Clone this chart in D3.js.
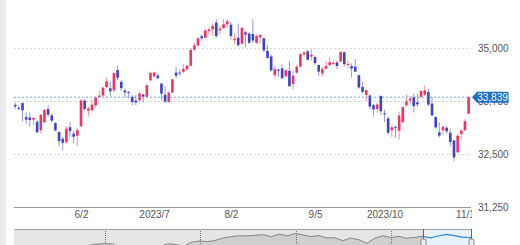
<!DOCTYPE html>
<html>
<head>
<meta charset="utf-8">
<script src="https://cdn.jsdelivr.net/npm/d3@7"></script>
<style>
  body { margin: 0; background: #fff; }
  svg { display: block; }
  text { font-family: "Liberation Sans", Arial, sans-serif; }
</style>
</head>
<body>
<div id="chart"></div>
<script>
// daily candles, 2023-05-08 .. 2023-11-02
var dates = ["2023-05-08","2023-05-09","2023-05-10","2023-05-11","2023-05-12","2023-05-15","2023-05-16","2023-05-17","2023-05-18","2023-05-19",
  "2023-05-22","2023-05-23","2023-05-24","2023-05-25","2023-05-26","2023-05-30","2023-05-31","2023-06-01","2023-06-02","2023-06-05",
  "2023-06-06","2023-06-07","2023-06-08","2023-06-09","2023-06-12","2023-06-13","2023-06-14","2023-06-15","2023-06-16","2023-06-20",
  "2023-06-21","2023-06-22","2023-06-23","2023-06-26","2023-06-27","2023-06-28","2023-06-29","2023-06-30","2023-07-03","2023-07-05",
  "2023-07-06","2023-07-07","2023-07-10","2023-07-11","2023-07-12","2023-07-13","2023-07-14","2023-07-17","2023-07-18","2023-07-19",
  "2023-07-20","2023-07-21","2023-07-24","2023-07-25","2023-07-26","2023-07-27","2023-07-28","2023-07-31","2023-08-01","2023-08-02",
  "2023-08-03","2023-08-04","2023-08-07","2023-08-08","2023-08-09","2023-08-10","2023-08-11","2023-08-14","2023-08-15","2023-08-16",
  "2023-08-17","2023-08-18","2023-08-21","2023-08-22","2023-08-23","2023-08-24","2023-08-25","2023-08-28","2023-08-29","2023-08-30",
  "2023-08-31","2023-09-01","2023-09-05","2023-09-06","2023-09-07","2023-09-08","2023-09-11","2023-09-12","2023-09-13","2023-09-14",
  "2023-09-15","2023-09-18","2023-09-19","2023-09-20","2023-09-21","2023-09-22","2023-09-25","2023-09-26","2023-09-27","2023-09-28",
  "2023-09-29","2023-10-02","2023-10-03","2023-10-04","2023-10-05","2023-10-06","2023-10-09","2023-10-10","2023-10-11","2023-10-12",
  "2023-10-13","2023-10-16","2023-10-17","2023-10-18","2023-10-19","2023-10-20","2023-10-23","2023-10-24","2023-10-25","2023-10-26",
  "2023-10-27","2023-10-30","2023-10-31","2023-11-01","2023-11-02"];

var open = [33660,33590,33700,33370,33360,33310,33260,33060,33250,33560,
  33410,33230,33020,32860,32780,33130,32980,32930,33150,33760,
  33520,33530,33650,33840,33880,34080,34050,34000,34480,34200,
  34000,33965,33850,33760,33770,33900,33850,34240,34330,34350,
  34160,33900,33730,33950,34420,34420,34440,34500,34580,34960,
  35060,35280,35240,35400,35440,35600,35420,35470,35560,35550,
  35190,35240,35100,35370,35340,35330,35120,35250,35230,34930,
  34800,34360,34490,34520,34330,34460,34150,34420,34560,34850,
  34920,34800,34790,34600,34400,34510,34600,34630,34660,34680,
  34900,34600,34570,34560,34360,34080,33890,33880,33650,33560,
  33870,33460,33340,33060,33140,33050,33250,33650,33760,33840,
  33720,33850,33900,33960,33690,33370,33010,33060,33120,33000,
  32820,32540,32970,33060,33450];

var high = [33720,33640,33720,33480,33480,33370,33300,33450,33560,33650,
  33460,33250,33030,32900,33160,33250,33040,33110,33800,33800,
  33610,33780,33850,33990,34070,34300,34210,34420,34590,34250,
  34050,33980,33890,33890,33950,33930,34140,34440,34440,34400,
  34170,34100,33980,34270,34560,34500,34630,34600,34990,35120,
  35270,35320,35460,35480,35570,35680,35520,35680,35680,35620,
  35350,35580,35500,35400,35370,35680,35320,35320,35240,35070,
  34850,34580,34520,34610,34500,34700,34480,34590,34870,34920,
  34960,34980,34800,34610,34560,34690,34790,34720,34700,34920,
  34910,34700,34640,34740,34370,34200,34020,33900,33680,33720,
  33880,33540,33390,33180,33170,33500,33620,33900,33870,33920,
  33930,34010,34120,34040,33850,33400,33240,33180,33170,33100,
  32830,32980,33070,33320,33860];

var low = [33560,33520,33270,33210,33140,33180,32995,32980,33220,33380,
  33240,33030,32680,32586,32750,32900,32750,32690,33150,33510,
  33380,33510,33590,33820,33850,34050,33860,33960,34240,33980,
  33830,33810,33650,33650,33720,33720,33840,34220,34330,34260,
  33770,33700,33700,33950,34290,34350,34400,34460,34560,34940,
  35020,35170,35220,35330,35290,35240,35320,35450,35480,35200,
  35100,35030,35090,35020,35100,35110,35100,35100,34900,34750,
  34440,34300,34320,34270,34320,34090,34030,34380,34540,34790,
  34720,34700,34600,34330,34330,34500,34560,34600,34500,34670,
  34560,34520,34300,34430,34040,33930,33750,33560,33380,33470,
  33420,33250,32950,32900,32880,32850,33240,33620,33660,33480,
  33610,33820,33860,33630,33390,33100,32890,32960,32980,32680,
  32330,32530,32850,33040,33440];

var close = [33619,33562,33531,33310,33301,33349,33012,33421,33536,33427,
  33287,33056,32800,32765,33093,33043,32908,33062,33763,33563,
  33573,33665,33834,33877,34066,34212,33979,34408,34299,34054,
  33952,33947,33727,33715,33927,33853,34122,34408,34418,34289,
  33922,33735,33944,34261,34347,34395,34509,34585,34952,35061,
  35225,35228,35411,35438,35520,35283,35459,35560,35631,35283,
  35216,35066,35473,35314,35123,35176,35281,35308,34946,34766,
  34475,34501,34464,34289,34473,34099,34347,34560,34853,34890,
  34722,34838,34642,34443,34501,34577,34664,34646,34576,34907,
  34618,34624,34518,34441,34070,33964,34007,33619,33550,33666,
  33508,33433,33002,33130,33120,33408,33605,33739,33805,33631,
  33670,33985,33998,33665,33414,33127,32936,33141,33036,32784,
  32418,32929,33053,33275,33839];

var priceTicks = [31250, 32500, 33750, 35000];
var dateTicks = ["2023-06-02","2023-07-03","2023-08-02","2023-09-05","2023-10-02","2023-11-01"];
var dateTickLabels = ["6/2","2023/7","8/2","9/5","2023/10","11/1"];
var lastPrice = 33839;

// navigator: monthly closes
var navMonths = ["2019-01-31","2019-02-28","2019-03-29","2019-04-30","2019-05-31","2019-06-28","2019-07-31","2019-08-30","2019-09-30","2019-10-31","2019-11-29","2019-12-31",
  "2020-01-31","2020-02-28","2020-03-31","2020-04-30","2020-05-29","2020-06-30","2020-07-31","2020-08-31","2020-09-30","2020-10-30","2020-11-30","2020-12-31",
  "2021-01-29","2021-02-26","2021-03-31","2021-04-30","2021-05-28","2021-06-30","2021-07-30","2021-08-31","2021-09-30","2021-10-29","2021-11-30","2021-12-31",
  "2022-01-31","2022-02-28","2022-03-31","2022-04-29","2022-05-31","2022-06-30","2022-07-29","2022-08-31","2022-09-30","2022-10-31","2022-11-30","2022-12-30",
  "2023-01-31","2023-02-28","2023-03-31","2023-04-28","2023-05-31","2023-06-30","2023-07-31","2023-08-31","2023-09-29","2023-10-31","2023-11-02"];
var navClose = [25000,25916,25929,26593,24815,26600,26864,26403,26917,27046,28051,28538,
  28256,25409,21917,24346,25383,25813,26428,28430,27782,26502,29638,30606,
  29983,30932,32982,33875,34529,34503,34935,35361,33844,35820,34484,36338,
  35132,33893,34678,32977,32990,30775,32845,31510,28726,32733,34590,33147,
  34086,32657,33274,34098,32908,34408,35560,34722,33508,33053,33839];
var navYears = ["2020-01-01","2021-01-01","2022-01-01","2023-01-01"];

var W = 520, H = 245;
var plotL = 14, plotR = 471, plotT = 0, plotB = 207;
var parse = d3.timeParse("%Y-%m-%d");

var up = "#f5325e", down = "#3d43c2";

var svg = d3.select("#chart").append("svg")
    .attr("width", W)
    .attr("height", H);

svg.append("rect")
    .attr("x", 0).attr("y", 0)
    .attr("width", 6).attr("height", H)
    .attr("fill", "#ebebeb");

var x = d3.scalePoint()
    .domain(dates)
    .range([15.2, 468.6]);

var y = d3.scaleLinear()
    .domain([31250, 35000])
    .range([207, 48]);

var defs = svg.append("defs");
defs.append("clipPath").attr("id", "plot")
  .append("rect")
    .attr("x", plotL).attr("y", plotT)
    .attr("width", plotR - plotL).attr("height", plotB - plotT);
defs.append("clipPath").attr("id", "xlab")
  .append("rect")
    .attr("x", plotL).attr("y", 207)
    .attr("width", plotR + 1 - plotL).attr("height", 20);

// grid
svg.append("g")
  .selectAll("line")
  .data(priceTicks.filter(function(d) { return d > 31250; }))
  .enter().append("line")
    .attr("x1", plotL).attr("x2", plotR)
    .attr("y1", function(d) { return Math.round(y(d)) + 0.5; })
    .attr("y2", function(d) { return Math.round(y(d)) + 0.5; })
    .attr("stroke", "#d9d9d9")
    .attr("stroke-dasharray", "2,2");

// baseline
svg.append("line")
    .attr("x1", plotL).attr("x2", plotR)
    .attr("y1", 207.5).attr("y2", 207.5)
    .attr("stroke", "#999");

// price axis labels
var yAxis = d3.axisRight(y)
    .tickValues(priceTicks)
    .tickFormat(d3.format(","))
    .tickSize(0)
    .tickPadding(0);

var ya = svg.append("g")
    .attr("transform", "translate(478,0)")
    .call(yAxis);
ya.select(".domain").remove();
ya.selectAll("text")
    .attr("font-size", "10px")
    .attr("fill", "#555");

// date axis labels (outer group clipped in page coords)
var xAxis = d3.axisBottom(x)
    .tickValues(dateTicks)
    .tickFormat(function(d, i) { return dateTickLabels[i]; })
    .tickSize(0)
    .tickPadding(0);

var xa = svg.append("g")
    .attr("clip-path", "url(#xlab)")
  .append("g")
    .attr("transform", "translate(0,211)")
    .call(xAxis);
xa.select(".domain").remove();
xa.selectAll("text")
    .attr("font-size", "10px")
    .attr("fill", "#555");

// candles
var idx = d3.range(dates.length);
var bw = 2.6;
var candles = svg.append("g").attr("clip-path", "url(#plot)");

candles.selectAll("line")
    .data(idx)
    .enter().append("line")
    .attr("x1", function(i) { return x(dates[i]); })
    .attr("x2", function(i) { return x(dates[i]); })
    .attr("y1", function(i) { return y(high[i]); })
    .attr("y2", function(i) { return y(low[i]); })
    .attr("stroke", function(i) { return close[i] >= open[i] ? up : down; })
    .attr("stroke-opacity", 0.55)
    .attr("stroke-width", 1);

candles.selectAll("rect")
    .data(idx)
    .enter().append("rect")
    .attr("x", function(i) { return x(dates[i]) - bw / 2; })
    .attr("width", bw)
    .attr("y", function(i) { return y(Math.max(open[i], close[i])); })
    .attr("height", function(i) { return Math.max(1, Math.abs(y(open[i]) - y(close[i]))); })
    .attr("fill", function(i) { return close[i] >= open[i] ? up : down; });

// last price line + badge
var ly = y(lastPrice);
svg.append("line")
    .attr("x1", plotL).attr("x2", plotR)
    .attr("y1", ly).attr("y2", ly)
    .attr("stroke", "#74a9e3")
    .attr("stroke-dasharray", "2,2");

svg.append("path")
    .attr("d", "M472," + ly + " L477," + (ly - 5.5) + " L507," + (ly - 5.5) +
      " Q508.5," + (ly - 5.5) + " 508.5," + (ly - 4) + " L508.5," + (ly + 4) +
      " Q508.5," + (ly + 5.5) + " 507," + (ly + 5.5) + " L477," + (ly + 5.5) + " Z")
    .attr("fill", "#1b6fc8");

svg.append("text")
    .attr("x", 492.5).attr("y", ly)
    .attr("dy", "0.35em")
    .attr("text-anchor", "middle")
    .attr("font-size", "10px")
    .attr("fill", "#fff")
    .text(d3.format(",")(lastPrice));

// navigator
var navTop = 229;
var nx = d3.scaleTime()
    .domain([parse("2019-01-20"), parse("2023-11-02")])
    .range([plotL, plotR]);
var ny = d3.scaleLinear()
    .domain([29000, 34000])
    .range([243, 236.5]);

var nav = svg.append("g");
nav.append("rect")
    .attr("x", plotL).attr("y", navTop)
    .attr("width", plotR - plotL).attr("height", H - navTop)
    .attr("fill", "#f4f4f4");

var navPts = navMonths.map(function(d, i) { return [parse(d), navClose[i]]; });
nav.append("path")
    .datum(navPts)
    .attr("d", d3.area()
      .x(function(d) { return nx(d[0]); })
      .y0(H + 20)
      .y1(function(d) { return ny(d[1]); }))
    .attr("fill", "#dcdcdc");

nav.append("path")
    .datum(navPts)
    .attr("d", d3.line()
      .x(function(d) { return nx(d[0]); })
      .y(function(d) { return ny(d[1]); }))
    .attr("fill", "none")
    .attr("stroke", "#8c8c8c")
    .attr("stroke-width", 1);

nav.selectAll(".yr")
    .data(navYears)
    .enter().append("line")
    .attr("x1", function(d) { return Math.round(nx(parse(d))) + 0.5; })
    .attr("x2", function(d) { return Math.round(nx(parse(d))) + 0.5; })
    .attr("y1", navTop).attr("y2", H)
    .attr("stroke", "#777")
    .attr("stroke-dasharray", "1,1");

// selected range
var s0 = nx(parse("2023-05-03")), s1 = plotR;
nav.append("rect")
    .attr("x", plotL).attr("y", navTop)
    .attr("width", s0 - plotL).attr("height", H - navTop)
    .attr("fill", "#000").attr("fill-opacity", 0.06);
nav.append("rect")
    .attr("x", s0).attr("y", navTop)
    .attr("width", s1 - s0).attr("height", H - navTop)
    .attr("fill", "#e6f1fc");
nav.append("path")
    .datum(navPts.filter(function(d) { return nx(d[0]) >= s0 - 12; }))
    .attr("d", d3.line()
      .x(function(d) { return Math.max(s0, nx(d[0])); })
      .y(function(d) { return ny(d[1]); }))
    .attr("fill", "none")
    .attr("stroke", "#2d86dc")
    .attr("stroke-width", 1.2);

nav.append("line")
    .attr("x1", plotL).attr("x2", plotR)
    .attr("y1", navTop + 0.5).attr("y2", navTop + 0.5)
    .attr("stroke", "#a0a0a0");

nav.selectAll(".edge")
    .data([s0, s1])
    .enter().append("line")
    .attr("x1", function(d) { return Math.round(d) + 0.5; })
    .attr("x2", function(d) { return Math.round(d) + 0.5; })
    .attr("y1", navTop).attr("y2", H)
    .attr("stroke", "#666");

nav.selectAll(".handle")
    .data([s0, s1])
    .enter().append("rect")
    .attr("x", function(d) { return Math.round(d) - 2; })
    .attr("y", 239)
    .attr("width", 5).attr("height", 8)
    .attr("rx", 1)
    .attr("fill", "#eee")
    .attr("stroke", "#888");
</script>
</body>
</html>
